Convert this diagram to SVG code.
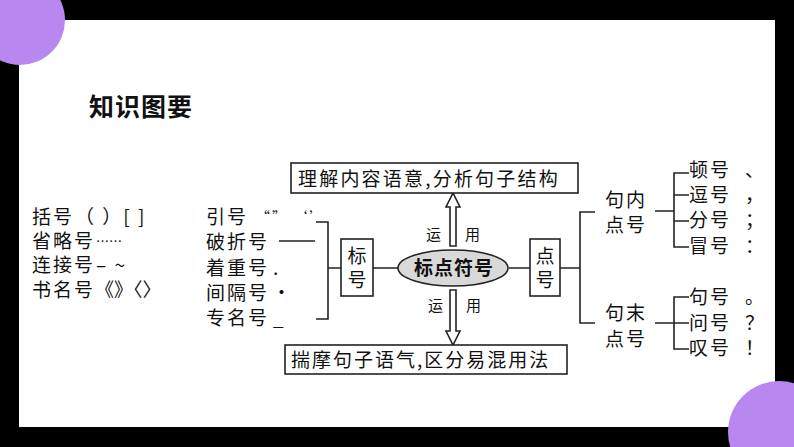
<svg xmlns="http://www.w3.org/2000/svg" width="794" height="447" viewBox="0 0 794 447">
<style>
text{font-family:"Noto Sans CJK SC","Liberation Serif",serif;font-size:19px;fill:#111;letter-spacing:2px}
.l{stroke:#222;stroke-width:1.6;fill:none}
.b{fill:#fff;stroke:#222;stroke-width:1.6}
.s{font-size:15px}
</style>
<rect width="794" height="447" fill="#000"/>
<rect x="19" y="20" width="756" height="407" fill="#fff"/>
<circle cx="20" cy="20" r="45" fill="#b987f0"/>
<circle cx="779" cy="432" r="51" fill="#b987f0"/>
<text x="89" y="116" style="font-size:25px;font-weight:bold;letter-spacing:1px;font-family:'Noto Sans CJK SC',sans-serif">知识图要</text>
<g id="left">
<text x="32" y="224">括号</text><text x="75" y="224">（ ）[ ]</text>
<text x="32" y="248">省略号</text><text x="96" y="246" style="font-size:13px;letter-spacing:0">……</text>
<text x="32" y="272">连接号</text><text x="96" y="272">– ~</text>
<text x="32" y="297">书名号</text><text x="95" y="297" style="letter-spacing:0">《》〈〉</text>
</g>
<g id="biaohao-items">
<text x="206" y="224">引号</text><text x="256" y="222" style="font-size:14px">“” ‘’</text>
<text x="206" y="249">破折号</text>
<text x="206" y="275">着重号</text><text x="273" y="275">.</text>
<text x="206" y="300">间隔号</text><text x="272" y="300">·</text>
<text x="206" y="325">专名号</text><text x="273" y="325">_</text>
</g>
<g id="connectors">
<path class="l" d="M279 241H315M316 222H328V319H316M328 268H341M373 268H398M509 268H530M560 268H580M595 212H580V323H595M655 211H674M689 173H674V247H689M674 195H689M674 221H689M655 323H689M689 297H674V349H689"/>
<path class="b" d="M450 246V207H446L453 193L460 207H456V246Z"/>
<path class="b" d="M450 290V331H446L453 345L460 331H456V290Z"/>
</g>
<g id="top"><rect class="b" x="291" y="163" width="287" height="30"/><text x="298" y="186" style="letter-spacing:2.2px">理解内容语意,分析句子结构</text></g>
<g id="bottom"><rect class="b" x="285" y="345" width="282" height="29"/><text x="291" y="367" style="letter-spacing:2px">揣摩句子语气,区分易混用法</text></g>
<g id="yun"><text x="426" y="240" class="s">运</text><text x="465" y="240" class="s">用</text><text x="428" y="311" class="s">运</text><text x="466" y="311" class="s">用</text></g>
<g id="center"><ellipse cx="453" cy="268" rx="55" ry="18" fill="#d9d9d9" stroke="#222" stroke-width="1.6"/><text x="454" y="275" text-anchor="middle" style="font-size:19px;font-weight:bold;letter-spacing:1px">标点符号</text></g>
<g id="biao"><rect class="b" x="341" y="239" width="32" height="57"/><text x="358" y="263" text-anchor="middle">标</text><text x="358" y="287" text-anchor="middle">号</text></g>
<g id="dian"><rect class="b" x="530" y="239" width="30" height="57"/><text x="546" y="263" text-anchor="middle">点</text><text x="546" y="287" text-anchor="middle">号</text></g>
<g id="junei"><text x="605" y="207">句内</text><text x="605" y="232">点号</text></g>
<g id="jumo"><text x="605" y="320">句末</text><text x="605" y="346">点号</text></g>
<g id="items">
<text x="689" y="177">顿号</text><text x="745" y="177">、</text>
<text x="689" y="202">逗号</text><text x="745" y="202">，</text>
<text x="689" y="227">分号</text><text x="745" y="227">；</text>
<text x="689" y="253">冒号</text><text x="745" y="253">：</text>
<text x="689" y="304">句号</text><text x="745" y="304">。</text>
<text x="689" y="330">问号</text><text x="745" y="330">？</text>
<text x="689" y="355">叹号</text><text x="745" y="355">！</text>
</g>
</svg>
